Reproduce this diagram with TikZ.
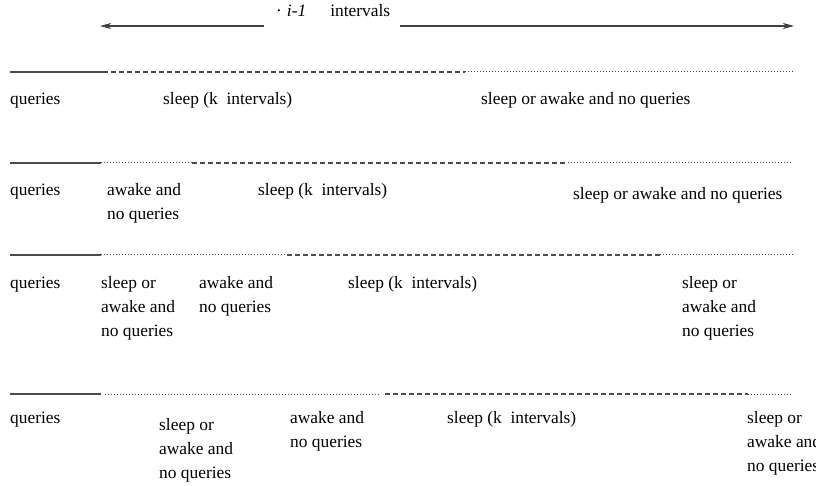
\documentclass[tikz,border=0pt]{standalone}
\usepackage{fontspec}
\setmainfont{Liberation Serif}
\usetikzlibrary{arrows.meta}

\begin{document}
\begin{tikzpicture}[x=1pt, y=-1pt,
  txt/.style={anchor=base west, inner sep=0pt, align=left, font=\fontsize{17.4}{24}\selectfont},
  solidpart/.style={draw=black!70, line width=1.3pt},
  dashpart/.style={draw=black!70, line width=1.2pt, dash pattern=on 5pt off 3pt},
  dotpart/.style={draw=black!75, line width=1pt, dash pattern=on 1pt off 2pt},
  arrow/.style={-{Stealth[length=11pt, width=6pt, inset=3pt]}, draw=black!75, line width=1.2pt}
]
\useasboundingbox (0,0) rectangle (816,486);

% span of the k intervals
\node[txt] (span) at (276,17) {\textperiodcentered\hspace{5pt}\textit{i-1}\hspace{24pt}intervals};
\coordinate (lend) at (100,26);
\coordinate (rend) at (794,26);
\draw[arrow] ([xshift=-12pt]span.west |- lend) -- (lend);
\draw[arrow] ([xshift=10pt]span.east |- rend) -- (rend);

% row 1
\draw[solidpart] (10,72) -- (103,72);
\draw[dashpart] (103,72) -- (465,72);
\draw[dotpart] (465,72) -- (793,72);
\node[txt] (q1) at (10,105) {queries};
\node[txt] (s1) at (163,105) {sleep (k\ \ intervals)};
\node[txt] (w1) at (481,105) {sleep or awake and no queries};

% row 2 (base of a block = its last line)
\draw[solidpart] (10,163) -- (101,163);
\draw[dotpart] (101,163) -- (192,163);
\draw[dashpart] (192,163) -- (568,163);
\draw[dotpart] (568,163) -- (793,163);
\node[txt] (q2) at (10,196) {queries};
\node[txt] (a2) at (107,220) {awake and\\no queries};
\node[txt] (s2) at (258,196) {sleep (k\ \ intervals)};
\node[txt] (w2) at (573,200) {sleep or awake and no queries};

% row 3
\draw[solidpart] (10,255) -- (101,255);
\draw[dotpart] (101,255) -- (287,255);
\draw[dashpart] (287,255) -- (660,255);
\draw[dotpart] (660,255) -- (793,255);
\node[txt] (q3) at (10,288) {queries};
\node[txt] (w3) at (101,336) {sleep or\\awake and\\no queries};
\node[txt] (a3) at (199,312) {awake and\\no queries};
\node[txt] (s3) at (348,288) {sleep (k\ \ intervals)};
\node[txt] (e3) at (682,336) {sleep or\\awake and\\no queries};

% row 4
\draw[solidpart] (10,394) -- (101,394);
\draw[dotpart] (105,394) -- (381,394);
\draw[dashpart] (385,394) -- (748,394);
\draw[dotpart] (748,394) -- (793,394);
\node[txt] (q4) at (10,423) {queries};
\node[txt] (w4) at (159,478) {sleep or\\awake and\\no queries};
\node[txt] (a4) at (290,447) {awake and\\no queries};
\node[txt] (s4) at (447,423) {sleep (k\ \ intervals)};
\node[txt] (e4) at (747,471) {sleep or\\awake and\\no queries};

\end{tikzpicture}
\end{document}
